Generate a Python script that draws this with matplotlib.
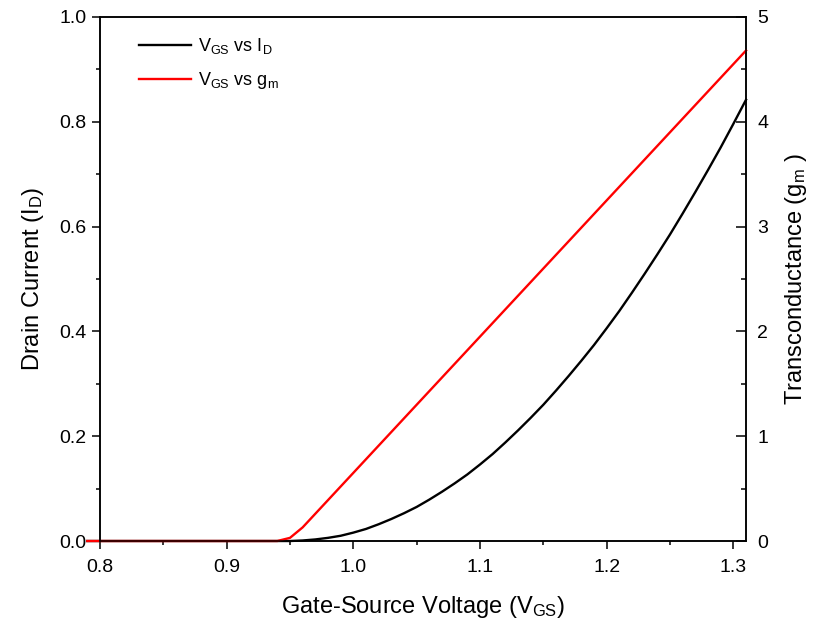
import matplotlib
matplotlib.use("Agg")
import matplotlib.pyplot as plt
from matplotlib.ticker import MultipleLocator

plt.rcParams["font.family"] = ["Liberation Sans", "DejaVu Sans"]
plt.rcParams["mathtext.fontset"] = "custom"
plt.rcParams["mathtext.rm"] = "Liberation Sans"
plt.rcParams["mathtext.it"] = "Liberation Sans"
plt.rcParams["mathtext.default"] = "regular"

# Drain current vs gate-source voltage
vgs_id = [0.79, 0.94, 0.95, 0.96, 0.97, 0.98, 0.99, 1.00, 1.01, 1.02, 1.03,
          1.04, 1.05, 1.06, 1.07, 1.08, 1.09, 1.10, 1.11, 1.12, 1.13, 1.14,
          1.15, 1.16, 1.17, 1.18, 1.19, 1.20, 1.21, 1.22, 1.23, 1.24, 1.25,
          1.26, 1.27, 1.28, 1.29, 1.30, 1.31]
i_d = [0.0, 0.0, 0.0, 0.001, 0.003, 0.006, 0.010, 0.016, 0.023, 0.032,
       0.042, 0.053, 0.065, 0.079, 0.094, 0.110, 0.127, 0.146, 0.166, 0.188,
       0.211, 0.235, 0.260, 0.287, 0.315, 0.344, 0.374, 0.406, 0.439, 0.474,
       0.510, 0.547, 0.585, 0.625, 0.666, 0.708, 0.751, 0.796, 0.842]

# Transconductance vs gate-source voltage
vgs_gm = [0.79, 0.94, 0.95, 0.96, 1.31]
g_m = [0.0, 0.0, 0.03, 0.13, 4.68]

fig = plt.figure(figsize=(8.18, 6.24), dpi=100)
ax = fig.add_axes([0.1222, 0.1330, 0.7898, 0.8398])
ax2 = ax.twinx()

l1, = ax.plot(vgs_id, i_d, color="black", lw=1.7, clip_on=False)
l2, = ax2.plot(vgs_gm, g_m, color="#ff0000", lw=1.7, clip_on=False)

ax.set_xlim(0.8, 1.31)
ax.set_ylim(0.0, 1.0)
ax2.set_ylim(0, 5)

ax.xaxis.set_major_locator(MultipleLocator(0.1))
ax.xaxis.set_minor_locator(MultipleLocator(0.05))
ax.yaxis.set_major_locator(MultipleLocator(0.2))
ax.yaxis.set_minor_locator(MultipleLocator(0.1))
ax2.yaxis.set_major_locator(MultipleLocator(1))
ax2.yaxis.set_minor_locator(MultipleLocator(0.5))

ax.xaxis.set_major_formatter(plt.FuncFormatter(lambda v, p: f"{v:.1f}"))
ax.yaxis.set_major_formatter(plt.FuncFormatter(lambda v, p: f"{v:.1f}"))

for a in (ax, ax2):
    for s in a.spines.values():
        s.set_linewidth(1.1)

ax.tick_params(axis="both", which="major", direction="out", length=6,
               width=1.1, labelsize=14, top=False, right=False)
ax.tick_params(axis="x", which="major", pad=7)
ax.tick_params(axis="both", which="minor", direction="out", length=3,
               width=1.1, top=False, right=False)
ax2.tick_params(axis="y", which="major", direction="in", length=7,
                width=1.1, labelsize=14, pad=8)
ax2.tick_params(axis="y", which="minor", direction="in", length=3.5,
                width=1.1)

ax.set_xlabel("Gate-Source Voltage (V$_{GS}$)", fontsize=17, labelpad=13)
ax.set_ylabel("Drain Current (I$_D$)", fontsize=17, labelpad=10)
ax2.set_ylabel("Transconductance (g$_m$ )", fontsize=17, labelpad=11)

ax.legend([l1, l2], ["V$_{GS}$ vs I$_D$", "V$_{GS}$ vs g$_m$"],
          loc="upper left", bbox_to_anchor=(0.035, 0.995), frameon=False,
          fontsize=13, handlelength=2.9, handletextpad=0.4,
          labelspacing=0.8)

fig.savefig("out.png", dpi=100)
